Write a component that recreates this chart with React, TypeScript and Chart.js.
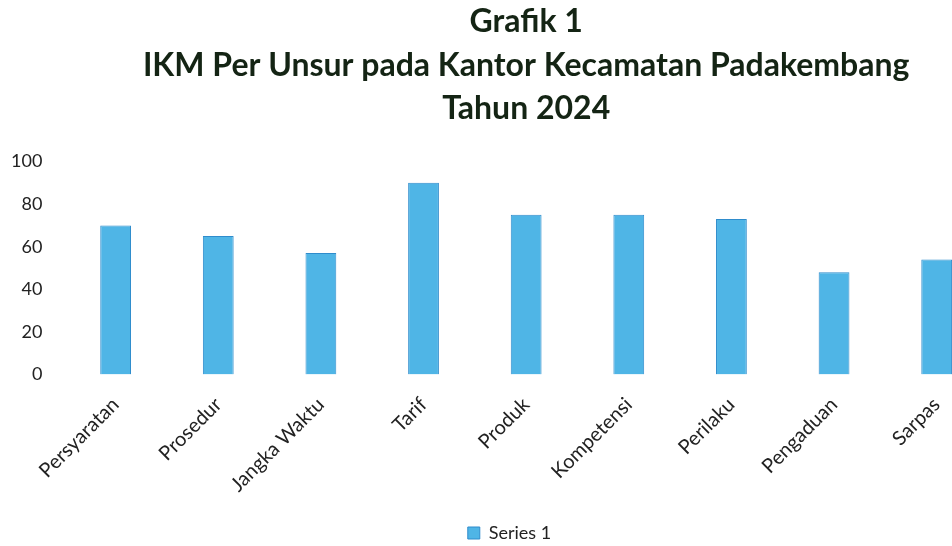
import React, { useEffect, useRef } from "react";
import { Chart, registerables } from "chart.js";

Chart.register(...registerables);

const categories = ["Persyaratan", "Prosedur", "Jangka Waktu", "Tarif", "Produk", "Kompetensi", "Perilaku", "Pengaduan", "Sarpas"];
const series1 = [70, 65, 57, 90, 75, 75, 73, 48, 54];
const titleLines = ["Grafik 1", "IKM Per Unsur pada Kantor Kecamatan Padakembang", "Tahun 2024"];

const legendShift = {
  id: "legendShift",
  afterLayout(chart: any) {
    const l = chart.legend;
    if (l) {
      l.left += 21;
      l.right += 21;
    }
  },
};

export default function App() {
  const ref = useRef<HTMLCanvasElement>(null);
  useEffect(() => {
    if (!ref.current) return;
    const chart = new Chart(ref.current, {
      type: "bar",
      data: {
        labels: categories,
        datasets: [
          {
            label: "Series 1",
            data: series1,
            backgroundColor: "#4fb5e6",
            borderColor: "#2f8ccc",
            borderWidth: 1,
            barPercentage: 0.6,
            categoryPercentage: 0.5,
          },
        ],
      },
      plugins: [legendShift],
      options: {
        animation: false,
        responsive: false,
        maintainAspectRatio: false,
        layout: { padding: { left: 8, right: 52, top: 0, bottom: -6 } },
        plugins: {
          title: {
            display: true,
            fullSize: false,
            text: titleLines,
            color: "#142414",
            font: { family: "Lato", size: 32, weight: "bold", lineHeight: 1.36 },
            padding: { top: 0, bottom: 31 },
          },
          legend: {
            position: "bottom",
            labels: {
              color: "#222",
              font: { family: "Lato", size: 18 },
              boxWidth: 12,
              boxHeight: 12,
              padding: 2,
            },
          },
          tooltip: { enabled: false },
        },
        scales: {
          x: {
            grid: { display: false },
            border: { display: false },
            afterFit: (scale: any) => {
              scale.height += 15;
            },
            ticks: {
              color: "#222",
              font: { family: "Lato", size: 20, lineHeight: 1.4 },
              maxRotation: 45,
              minRotation: 45,
              padding: 9,
            },
          },
          y: {
            min: 0,
            max: 100,
            grid: { display: false, drawTicks: false },
            border: { display: false },
            ticks: {
              stepSize: 20,
              color: "#222",
              font: { family: "Lato", size: 18 },
              padding: 22,
            },
          },
        },
      },
    });
    return () => chart.destroy();
  }, []);
  return (
    <div style={{ position: "fixed", left: 0, top: 0, width: 952, height: 546, overflow: "hidden", background: "#fff" }}>
      <canvas ref={ref} width={1059} height={546} style={{ display: "block", position: "absolute", left: -19, top: 0 }} />
    </div>
  );
}
